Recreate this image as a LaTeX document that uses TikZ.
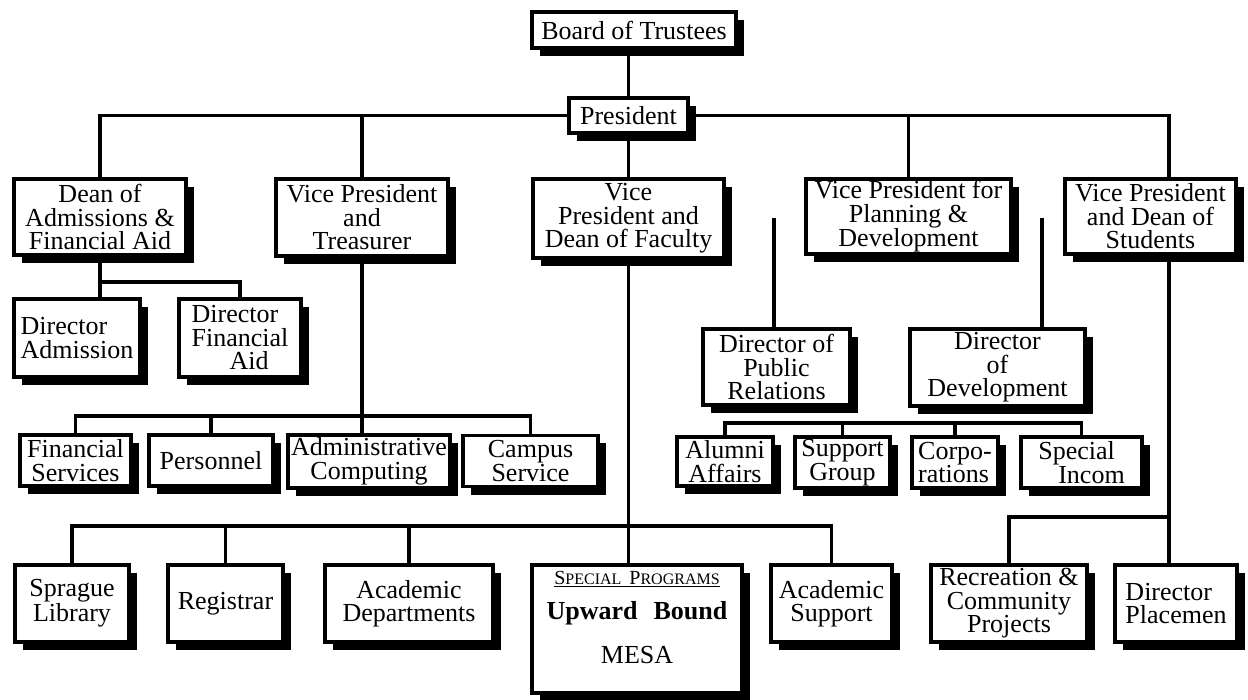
\documentclass[tikz,border=0pt]{standalone}
\usepackage{fontspec}
\setmainfont{Liberation Serif}
\usetikzlibrary{shadows}

\begin{document}
\begin{tikzpicture}[
  x=1pt, y=-1pt,
  font=\fontsize{26}{23.5}\selectfont,
  unit/.style={rectangle, draw=black, line width=3.5pt, fill=white, inner sep=0pt, align=center,
               drop shadow={shadow xshift=7.5pt, shadow yshift=-8pt, fill=black, opacity=1}},
  link/.style={line width=3.2pt}
]
\useasboundingbox (0,0) rectangle (1248,700);

% top
\node[unit, minimum width=204pt, minimum height=36pt] (board) at (634,30) {Board of Trustees};
\node[unit, minimum width=119pt, minimum height=35pt] (pres) at (628.5,115.5) {President};

% vice presidents
\node[unit, minimum width=172pt, minimum height=76pt] (dean) at (100,217) {Dean of\\Admissions \&\\Financial Aid};
\node[unit, minimum width=172pt, minimum height=77pt] (vptr) at (362,217.5) {Vice President\\and\\Treasurer};
\node[unit, minimum width=191pt, minimum height=79pt] (vpfac) at (628.5,218.5) {Vice\\President and\\Dean of Faculty};
\node[unit, minimum width=205pt, minimum height=75pt] (vpplan) at (908.5,216.5) {Vice President for\\Planning \&\\Development};
\node[unit, minimum width=171pt, minimum height=75pt] (vpstu) at (1150.5,216.5) {Vice President\\and Dean of\\Students};

% admissions
\node[unit, align=left, minimum width=126pt, minimum height=78pt] (diradm) at (77,338) {Director\\Admission};
\node[unit, align=left, minimum width=122pt, minimum height=78pt] (dirfa) at (240,338) {Director\\Financial\\\hspace*{38pt}Aid};

% treasurer
\node[unit, minimum width=111pt, minimum height=51pt] (finsvc) at (75.5,460.5) {Financial\\Services};
\node[unit, minimum width=124pt, minimum height=51pt] (pers) at (211,460.5) {Personnel};
\node[unit, minimum width=162pt, minimum height=53pt] (admcomp) at (369,461.5) {Administrative\\Computing};
\node[unit, minimum width=135pt, minimum height=51pt] (campus) at (530.5,461) {Campus\\Service};

% planning
\node[unit, minimum width=147pt, minimum height=76pt] (dirpr) at (776.5,367) {Director of\\Public\\Relations};
\node[unit, minimum width=175pt, minimum height=77pt] (dirdev) at (997.5,367.5) {Director\\of\\Development};
\node[unit, minimum width=96pt, minimum height=49pt] (alumni) at (725,461.5) {Alumni\\Affairs};
\node[unit, minimum width=95pt, minimum height=51pt] (support) at (842.5,462.5) {Support\\Group};
\node[unit, align=left, minimum width=86pt, minimum height=51pt] (corp) at (955,462.5) {Corpo-\\rations};
\node[unit, align=left, minimum width=121pt, minimum height=51pt] (incom) at (1081.5,462.5) {Special\\\hspace*{20pt}Incom};

% faculty
\node[unit, minimum width=114pt, minimum height=77pt] (sprague) at (72,603.5) {Sprague\\Library};
\node[unit, minimum width=115pt, minimum height=77pt] (registrar) at (225.5,603.5) {Registrar};
\node[unit, minimum width=168pt, minimum height=77pt] (acaddept) at (409,603.5) {Academic\\Departments};
\node[unit, minimum width=210pt, minimum height=128pt, text depth=24pt] (special) at (637,629)
  {\underline{{\fontsize{20}{20}\selectfont S}{\fontsize{16}{16}\selectfont PECIAL\ \ }{\fontsize{20}{20}\selectfont P}{\fontsize{16}{16}\selectfont ROGRAMS}}\\[12pt]
   \textbf{Upward\hspace{16pt}Bound}\\[20pt]MESA};
\node[unit, minimum width=121pt, minimum height=77pt] (acadsup) at (831.5,603.5) {Academic\\Support};

% students
\node[unit, minimum width=156pt, minimum height=77pt] (recre) at (1009,603.5) {Recreation \&\\Community\\Projects};
\node[unit, align=left, minimum width=122pt, minimum height=77pt] (dirplace) at (1176,603.5) {Director\\Placemen};

% bus lines
\coordinate (db) at (0,282);
\coordinate (tb) at (0,416);
\coordinate (vb) at (0,423);
\coordinate (sb) at (0,517);
\coordinate (fb) at (0,526);
\coordinate (prtop) at (774,218);
\coordinate (devtop) at (1042,218);
\coordinate (stx) at ([xshift=18.5pt]vpstu.south);

\draw[link] (pres.north) -- (pres.north |- board.south);
\draw[link] (dean.north) |- (pres.west);
\draw[link] (pres.east) -| (stx |- vpstu.north);
\draw[link] (vptr.north) -- (vptr.north |- pres.west);
\draw[link] (vpplan.north) -- (vpplan.north |- pres.east);
\draw[link] (pres.south) -- (pres.south |- vpfac.north);

\draw[link] (dean.south) -- (dean.south |- diradm.north);
\draw[link] (dean.south |- db) -| (dirfa.north);

\draw[link] (vptr.south) -- (vptr.south |- admcomp.north);
\draw[link] (finsvc.north) |- (campus.north |- tb) -- (campus.north);
\draw[link] (pers.north) -- (pers.north |- tb);

\draw[link] (prtop) -- (prtop |- dirpr.north);
\draw[link] (devtop) -- (devtop |- dirdev.north);
\draw[link] (alumni.north) |- (incom.north |- vb) -- (incom.north);
\draw[link] (support.north) -- (support.north |- vb);
\draw[link] (corp.north) -- (corp.north |- vb);

\draw[link] (vpfac.south) -- (vpfac.south |- special.north);
\draw[link] (sprague.north) |- (acadsup.north |- fb) -- (acadsup.north);
\draw[link] (registrar.north) -- (registrar.north |- fb);
\draw[link] (acaddept.north) -- (acaddept.north |- fb);

\draw[link] (stx) -- (stx |- dirplace.north);
\draw[link] (recre.north) |- (stx |- sb);
\end{tikzpicture}
\end{document}
